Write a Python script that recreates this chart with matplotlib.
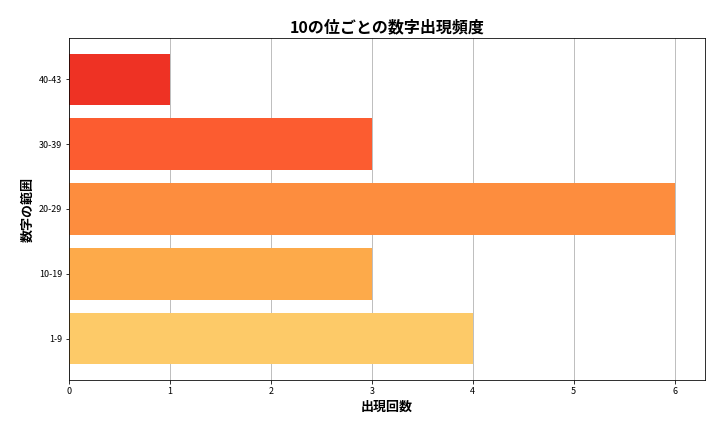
import matplotlib
matplotlib.use("Agg")
import matplotlib.pyplot as plt

plt.rcParams["font.family"] = ["Noto Sans CJK JP", "DejaVu Sans"]

categories = ["1-9", "10-19", "20-29", "30-39", "40-43"]
counts = [4, 3, 6, 3, 1]
colors = ["#fdca68", "#fdaa4a", "#fd8d3e", "#fc5c30", "#ee3224"]

fig = plt.figure(figsize=(10, 6), dpi=72)
ax = fig.add_axes([69/720, 52/432, 636/720, 342/432])
ax.barh(categories, counts, color=colors, height=0.8, zorder=2)
ax.set_xlim(0, 6.3)
ax.grid(axis="x", color="#b0b0b0", linewidth=0.8, zorder=0)
ax.set_axisbelow(True)
ax.set_title("10の位ごとの数字出現頻度", fontsize=16, fontweight="bold")
ax.set_xlabel("出現回数", fontsize=13, fontweight="bold")
ax.set_ylabel("数字の範囲", fontsize=13, fontweight="bold")
ax.tick_params(labelsize=9)
fig.savefig("out.png", dpi=72)
